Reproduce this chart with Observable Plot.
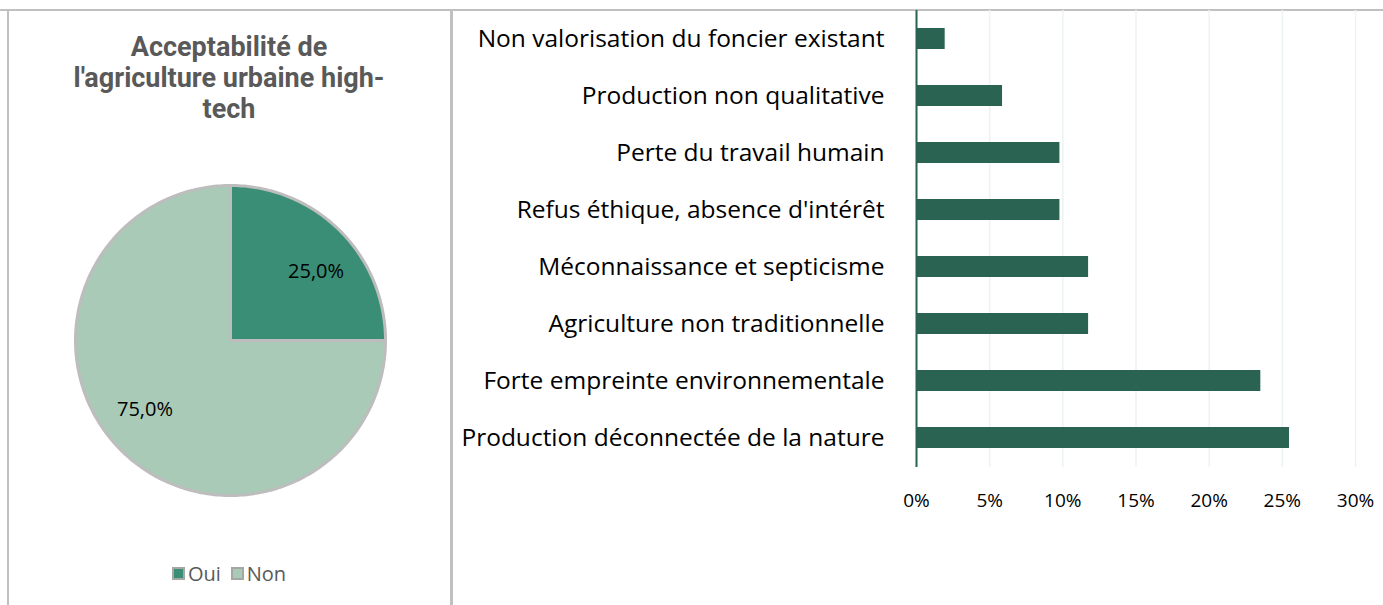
<!DOCTYPE html>
<html><head><meta charset="utf-8">
<script src="https://cdn.jsdelivr.net/npm/d3@7"></script>
<script src="https://cdn.jsdelivr.net/npm/@observablehq/plot@0.6"></script>
<style>
body{margin:0;background:#fff;}
#wrap{position:relative;width:1383px;height:605px;overflow:hidden;background:#fff;font-family:"Open Sans",sans-serif;}
.abs{position:absolute;}
#title{left:7px;width:444px;top:32px;text-align:center;font-family:"Roboto",sans-serif;font-weight:bold;font-size:27px;line-height:31px;color:#595959;}
#legend{left:7px;width:444px;top:560px;text-align:center;font-size:20px;color:#595959;}
.sw{display:inline-block;width:9px;height:9px;border:2px solid #a6a6a6;vertical-align:middle;margin-right:3px;position:relative;top:-2px;}
</style></head>
<body><div id="wrap">
<div class="abs" style="left:0;top:9px;width:1383px;height:2px;background:#c0c0c0"></div>
<div class="abs" style="left:7px;top:9px;width:1.5px;height:600px;background:#c0c0c0"></div>
<div class="abs" style="left:450px;top:9px;width:3px;height:600px;background:#c0c0c0"></div>
<div id="title" class="abs">Acceptabilité de<br>l'agriculture urbaine high-<br>tech</div>
<div id="pie" class="abs" style="left:70px;top:180px"></div>
<div id="legend" class="abs"></div>
<div id="bars" class="abs" style="left:455px;top:10px"></div>
</div>
<script>
// ---- data ----
const pieLabels = ["Oui", "Non"];
const pieValues = [25.0, 75.0];
const pieColors = ["#3a8e76", "#a8cab7"];

const categories = [
  "Non valorisation du foncier existant",
  "Production non qualitative",
  "Perte du travail humain",
  "Refus éthique, absence d'intérêt",
  "Méconnaissance et septicisme",
  "Agriculture non traditionnelle",
  "Forte empreinte environnementale",
  "Production déconnectée de la nature"
];
const values = [0.0196, 0.0588, 0.098, 0.098, 0.1176, 0.1176, 0.2353, 0.2549];
const xTicks = [0, 0.05, 0.10, 0.15, 0.20, 0.25, 0.30];

// ---- pie ----
const total = d3.sum(pieValues);
const slicePts = [];
const labelPts = [];
let start = 0;
pieLabels.forEach((k, i) => {
  const span = pieValues[i] / total * 2 * Math.PI;
  const end = start + span;
  slicePts.push({key: k, x: 0, y: 0});
  const n = Math.max(2, Math.ceil(span / (Math.PI / 180)));
  for (let j = 0; j <= n; j++) {
    const a = start + span * j / n;
    slicePts.push({key: k, x: Math.sin(a), y: Math.cos(a)});
  }
  slicePts.push({key: k, x: 0, y: 0});
  const mid = (start + end) / 2 + Math.PI / 30;
  labelPts.push({key: k, x: 0.71 * Math.sin(mid), y: 0.71 * Math.cos(mid),
    text: pieValues[i].toFixed(1).replace(".", ",") + "%"});
  start = end;
});

const pie = Plot.plot({
  width: 320, height: 320, margin: 5,
  x: {domain: [-1, 1], axis: null},
  y: {domain: [-1, 1], axis: null},
  color: {domain: pieLabels, range: pieColors},
  style: {fontFamily: "Open Sans", background: "transparent"},
  marks: [
    Plot.line(slicePts, {x: "x", y: "y", z: "key", fill: "key", stroke: "#bdbdbd", strokeWidth: 3, strokeLinejoin: "round"}),
    Plot.text(labelPts, {x: "x", y: "y", text: "text", fontSize: 20, fill: "#000"})
  ]
});
document.getElementById("pie").appendChild(pie);

document.getElementById("legend").innerHTML = pieLabels.map((k, i) =>
  `<span style="margin:0 5px"><span class="sw" style="background:${pieColors[i]}"></span>${k}</span>`).join("");

// ---- bars ----
const barData = categories.map((c, i) => ({cat: c, value: values[i]}));
const bars = Plot.plot({
  width: 928, height: 520,
  marginLeft: 461, marginRight: 28, marginTop: 0, marginBottom: 63,
  x: {domain: [0, 0.30], label: null},
  y: {domain: categories, paddingInner: 0.63, paddingOuter: 0.315, label: null},
  style: {fontFamily: "Open Sans", background: "transparent", color: "#000"},
  marks: [
    Plot.gridX(xTicks, {stroke: "#edf3f1", strokeOpacity: 1, strokeWidth: 1.5}),
    Plot.barX(barData, {x: "value", y: "cat", fill: "#2a6352"}),
    Plot.ruleX([0], {stroke: "#2a6352", strokeWidth: 2}),
    Plot.axisX({ticks: xTicks, tickFormat: d => Math.round(d * 100) + "%", tickSize: 0, tickPadding: 26, fontSize: 19, fill: "#000"}),
    Plot.axisY({tickSize: 0, tickPadding: 32, fontSize: 24.5, fill: "#000"})
  ]
});
document.getElementById("bars").appendChild(bars);
</script>
</body></html>
